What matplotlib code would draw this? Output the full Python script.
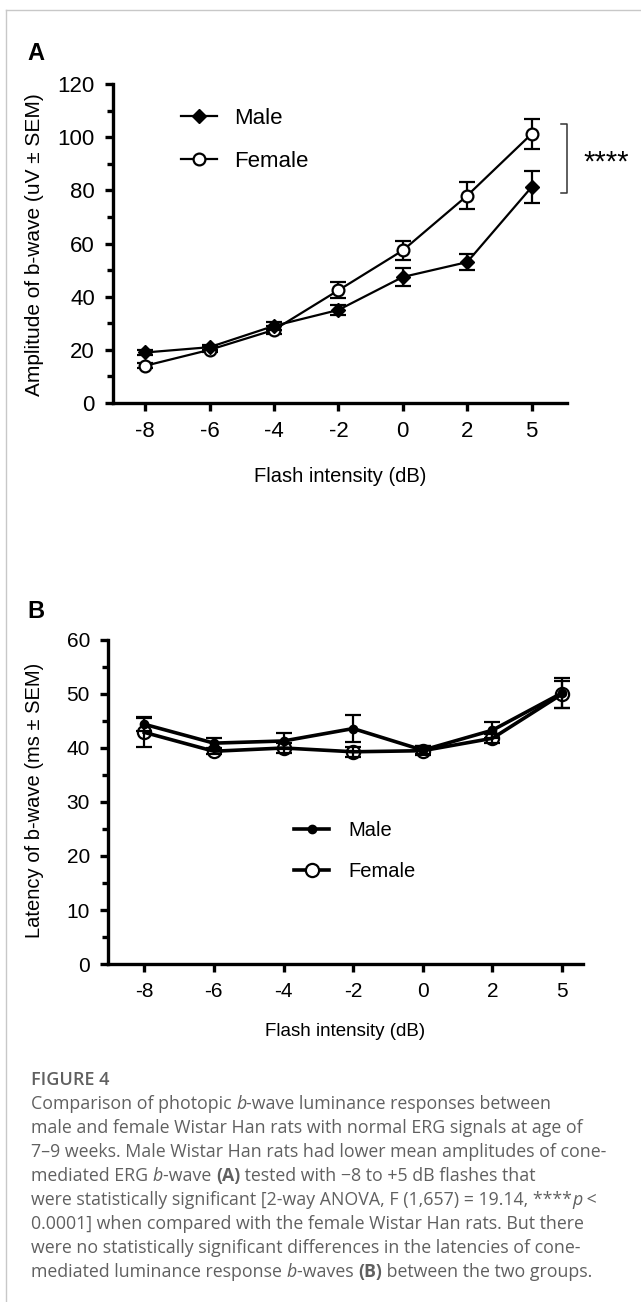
import matplotlib
matplotlib.use('Agg')
import matplotlib.pyplot as plt
from matplotlib.ticker import MultipleLocator
from matplotlib.lines import Line2D
import numpy as np

plt.rcParams['font.family'] = ['Liberation Sans', 'DejaVu Sans']

# data
intensity = ['-8', '-6', '-4', '-2', '0', '2', '5']
amp_male = [19, 21, 29, 35, 47.4, 53, 81.2]
amp_male_sem = [1.0, 1.0, 1.5, 2.0, 3.2, 3.0, 6.0]
amp_female = [14, 20, 27.5, 42.4, 57.4, 78, 101.2]
amp_female_sem = [1.0, 1.0, 1.5, 3.0, 3.5, 5.0, 5.6]
lat_male = [44.4, 40.9, 41.3, 43.6, 39.6, 43.3, 50.2]
lat_male_sem = [1.3, 0.9, 1.4, 2.5, 0.8, 1.5, 2.8]
lat_female = [42.9, 39.4, 40.0, 39.3, 39.5, 41.8, 50.0]
lat_female_sem = [2.7, 0.5, 1.0, 0.9, 0.8, 0.8, 2.5]
groups = ['Male', 'Female']

W, H = 641, 1302
fig = plt.figure(figsize=(W / 100, H / 100), dpi=100)

def box(x0, y0, x1, y1):
    # pixel box (top-left origin) -> figure fraction rect
    return [x0 / W, 1 - y1 / H, (x1 - x0) / W, (y1 - y0) / H]

def P(x, y):
    return x / W, 1 - y / H

# thin grey frame (top and left)
fig.add_artist(Line2D([6 / W, 6 / W], [0, 1 - 10 / H], color='#c8c8c8', lw=1))
fig.add_artist(Line2D([6 / W, 1], [1 - 10 / H, 1 - 10 / H], color='#c8c8c8', lw=1))

def style_axes(ax, fs):
    for s in ['top', 'right']:
        ax.spines[s].set_visible(False)
    for s in ['left', 'bottom']:
        ax.spines[s].set_linewidth(2.4)
    ax.tick_params(which='major', direction='out', length=6, width=2.4, labelsize=fs, pad=7)
    ax.tick_params(which='minor', direction='out', length=4, width=2.4)
    ax.tick_params(axis='x', which='minor', bottom=False)

x = np.arange(len(intensity))

# ---- panel A ----
axA = fig.add_axes(box(113, 84, 567, 403))
axA.errorbar(x, amp_female, yerr=amp_female_sem, color='black', lw=1.6, marker='o',
             ms=8.5, mfc='white', mec='black', mew=1.6, capsize=6, capthick=1.6, elinewidth=1.6,
             zorder=3)
axA.errorbar(x, amp_male, yerr=amp_male_sem, color='black', lw=1.6, marker='D',
             ms=7.5, mfc='black', mec='black', capsize=6, capthick=1.6, elinewidth=1.6,
             zorder=4)
axA.set_xlim(-0.5, 6.55)
axA.set_ylim(0, 120)
axA.set_xticks(x)
axA.set_xticklabels(intensity)
axA.yaxis.set_major_locator(MultipleLocator(20))
axA.yaxis.set_minor_locator(MultipleLocator(10))
style_axes(axA, 16)
hA = [Line2D([], [], color='black', lw=1.6, marker='D', ms=7.5, mfc='black'),
      Line2D([], [], color='black', lw=1.6, marker='o', ms=8.5, mfc='white', mew=1.6)]
axA.legend(hA, groups, loc='center left', bbox_to_anchor=P(161, 140),
           bbox_transform=fig.transFigure, frameon=False, fontsize=16,
           handlelength=1.6, handletextpad=0.8, labelspacing=1.0)

# significance bracket
axA.plot([6.45, 6.55, 6.55, 6.45], [105, 105, 79, 79], color='#333333', lw=1.1, clip_on=False)
fig.text(*P(583, 163), '****', fontsize=21, va='center', ha='left')

fig.text(*P(35, 245), 'Amplitude of b-wave (uV ± SEM)', rotation=90, fontsize=15,
         ha='center', va='center')
fig.text(*P(340, 477), 'Flash intensity (dB)', fontsize=14.5, ha='center', va='center')
fig.text(*P(27, 53), 'A', fontsize=17, fontweight='bold', ha='left', va='center')

# ---- panel B ----
axB = fig.add_axes(box(108, 640, 583, 964))
axB.errorbar(x, lat_male, yerr=lat_male_sem, color='black', lw=2.6, marker='o',
             ms=6, mfc='black', mec='black', capsize=6, capthick=1.6, elinewidth=1.6,
             zorder=4)
axB.errorbar(x, lat_female, yerr=lat_female_sem, color='black', lw=2.6, marker='o',
             ms=9.5, mfc='none', mec='black', mew=1.6, capsize=6, capthick=1.6, elinewidth=1.6,
             zorder=3)
axB.set_xlim(-0.52, 6.3)
axB.set_ylim(0, 60)
axB.set_xticks(x)
axB.set_xticklabels(intensity)
axB.yaxis.set_major_locator(MultipleLocator(10))
axB.yaxis.set_minor_locator(MultipleLocator(5))
style_axes(axB, 15)
hB = [Line2D([], [], color='black', lw=2.6, marker='o', ms=6, mfc='black'),
      Line2D([], [], color='black', lw=2.6, marker='o', ms=9.5, mfc='white', mew=1.6)]
axB.legend(hB, groups, loc='center left', bbox_to_anchor=P(276, 851),
           bbox_transform=fig.transFigure, frameon=False, fontsize=14.5,
           handlelength=1.75, handletextpad=0.95, labelspacing=1.05)

fig.text(*P(35, 800), 'Latency of b-wave (ms ± SEM)', rotation=90, fontsize=14.5,
         ha='center', va='center')
fig.text(*P(345, 1031), 'Flash intensity (dB)', fontsize=13.5, ha='center', va='center')
fig.text(*P(27, 612), 'B', fontsize=17, fontweight='bold', ha='left', va='center')

# ---- caption ----
cap_col = '#606060'
fig.text(*P(31, 1080), 'FIGURE 4', fontsize=13, color=cap_col, family='Open Sans',
         fontweight='semibold', va='center')

caption = [
    [('Comparison of photopic ', 'n'), ('b', 'i'), ('-wave luminance responses between', 'n')],
    [('male and female Wistar Han rats with normal ERG signals at age of', 'n')],
    [('7–9 weeks. Male Wistar Han rats had lower mean amplitudes of cone-', 'n')],
    [('mediated ERG ', 'n'), ('b', 'i'), ('-wave ', 'n'), ('(A)', 'b'), (' tested with −8 to +5 dB flashes that', 'n')],
    [('were statistically significant [2-way ANOVA, F (1,657) = 19.14, ****', 'n'), ('p', 'i'), (' <', 'n')],
    [('0.0001] when compared with the female Wistar Han rats. But there', 'n')],
    [('were no statistically significant differences in the latencies of cone-', 'n')],
    [('mediated luminance response ', 'n'), ('b', 'i'), ('-waves ', 'n'), ('(B)', 'b'), (' between the two groups.', 'n')],
]

renderer = fig.canvas.get_renderer()
for i, line in enumerate(caption):
    xpos = 31
    ypos = 1104 + 24 * i
    for txt, st in line:
        kw = dict(fontsize=12.8, color=cap_col, family='Open Sans', va='center', ha='left')
        if st == 'i':
            kw['fontstyle'] = 'italic'
        if st == 'b':
            kw['fontweight'] = 'bold'
        t = fig.text(*P(xpos, ypos), txt, **kw)
        bb = t.get_window_extent(renderer=renderer)
        xpos += bb.width

fig.savefig('out.png', dpi=100)
